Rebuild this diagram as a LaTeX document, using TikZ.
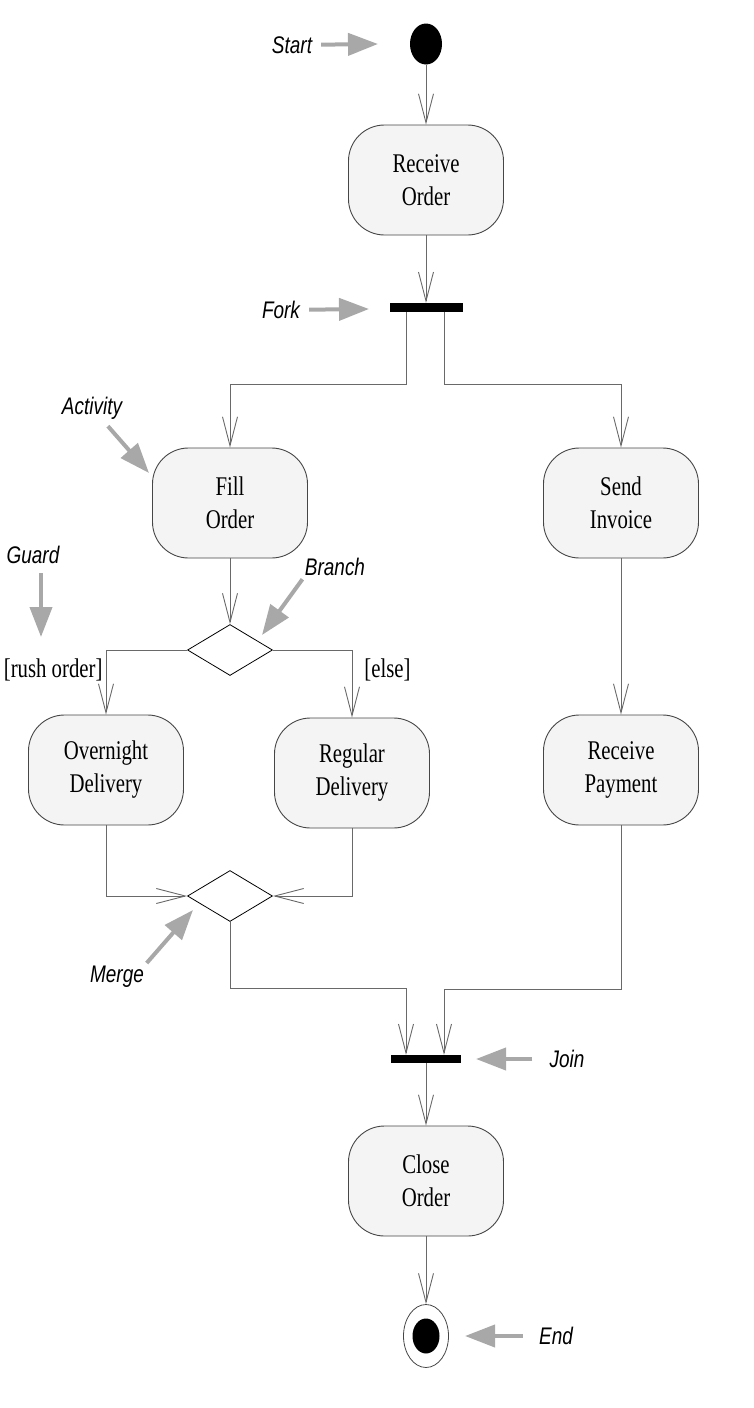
\documentclass[tikz,border=0pt]{standalone}
\usepackage{fontspec}
\usepackage{xcolor}
\usepackage{tikz}
\usetikzlibrary{arrows.meta}
\usetikzlibrary{shapes.geometric}
\newfontfamily\boxfont{Liberation Serif}[FakeStretch=0.77]
\newfontfamily\notefont{Liberation Sans}[FakeStretch=0.79]
\definecolor{linegray}{RGB}{105,105,105}
\definecolor{notegray}{RGB}{168,168,168}
\definecolor{boxfill}{RGB}{244,244,244}
\definecolor{boxline}{RGB}{70,70,70}
\tikzset{
  activity/.style={draw=boxline,fill=boxfill,line width=0.9pt,rounded corners=36pt,
    minimum width=155pt,minimum height=110pt,align=center,inner sep=0pt,
    font=\boxfont\fontsize{27}{33}\selectfont},
  bar/.style={fill=black,minimum width=73pt,minimum height=9pt,inner sep=0pt},
  choice/.style={diamond,draw=black,line width=0.8pt,minimum width=85pt,minimum height=51pt,inner sep=0pt},
  flow/.style={linegray,line width=0.9pt,-{Straight Barb[length=29pt,width=15pt]}},
  note/.style={draw=notegray,line width=4pt,-{Triangle[length=30pt,width=22pt]},shorten <=9pt},
  notetext/.style={inner sep=0pt,font=\notefont\itshape\fontsize{24}{28}\selectfont},
  guard/.style={inner sep=0pt,black,font=\boxfont\fontsize{27}{33}\selectfont}
}

\begin{document}
\begin{tikzpicture}[x=1pt,y=-1pt]
  \useasboundingbox (0,0) rectangle (754,1408);
  \node[ellipse,fill=black,minimum width=32pt,minimum height=41pt,inner sep=0pt] (start) at (426,44) {};
  \node[activity] (recv) at (426,180) {Receive\\Order};
  \node[bar] (fork) at (426,307.5) {};
  \node[activity] (fill) at (230,503) {Fill\\Order};
  \node[activity] (send) at (621,503) {Send\\Invoice};
  \node[choice] (branch) at (230,650) {};
  \node[activity] (over) at (106,770) {Overnight\\Delivery};
  \node[activity] (reg) at (352,773) {Regular\\Delivery};
  \node[activity] (pay) at (621,770) {Receive\\Payment};
  \node[choice] (merge) at (230,896) {};
  \node[bar,minimum width=70pt,minimum height=8pt] (join) at (426,1059) {};
  \node[activity] (close) at (426,1181) {Close\\Order};
  \node[ellipse,draw=boxline,line width=0.8pt,minimum width=45pt,minimum height=63pt,inner sep=0pt] (finish) at (426,1336) {};
  \node[ellipse,fill=black,minimum width=27pt,minimum height=35pt,inner sep=0pt] (finishin) at (finish) {};

  \path[flow]
    (start) edge (recv)
    (recv) edge (fork)
    (fill) edge (branch)
    (send) edge (pay)
    (join) edge (close)
    (close) edge (finish);
  \draw[flow] ([xshift=-20pt]fork.south) -- ++(0,72) -| (fill.north);
  \draw[flow] ([xshift=18pt]fork.south) -- ++(0,72) -| (send.north);
  \draw[flow] (branch.west) -| node[pos=0.5,guard,anchor=north east,xshift=-3pt,yshift=-8pt] {[rush order]} (over.north);
  \draw[flow] (branch.east) -| node[pos=0.5,guard,anchor=north west,xshift=12pt,yshift=-8pt] {[else]} (reg.north);
  \draw[flow] (over.south) |- (merge.west);
  \draw[flow] (reg.south) |- (merge.east);
  \draw[flow] (merge.south) -- ++(0,67) -| ([xshift=-20pt]join.north);
  \draw[flow] (pay.south) -- ++(0,164) -| ([xshift=18pt]join.north);

  \node[notetext] (lstart) at (292,45) {Start};
  \node[notetext] (lfork) at (281,310) {Fork};
  \node[notetext] (lact) at (92,408) {Activity};
  \node[notetext] (lguard) at (33,555) {Guard};
  \node[notetext] (lbranch) at (335,567) {Branch};
  \node[notetext] (lmerge) at (117,977) {Merge};
  \node[notetext] (ljoin) at (567,1059) {Join};
  \node[notetext] (lend) at (556,1336) {End};
  \coordinate (tstart) at (378,44);
  \coordinate (tfork) at (369,309);
  \coordinate (tact) at (149,473);
  \coordinate (tguard) at (41,637);
  \coordinate (tbranch) at (262,635);
  \coordinate (tmerge) at (193,910);
  \coordinate (tjoin) at (476,1059);
  \coordinate (tend) at (465,1336);
  \draw[note] (lstart) -- (tstart);
  \draw[note] (lfork) -- (tfork);
  \draw[note] ([xshift=10pt]lact.south) -- (tact);
  \draw[note] ([xshift=8pt]lguard.south) -- (tguard);
  \draw[note,shorten <=4pt] (lbranch.south west) -- (tbranch);
  \draw[note,shorten <=4pt] (lmerge.north east) -- (tmerge);
  \draw[note,shorten <=17pt] (ljoin) -- (tjoin);
  \draw[note,shorten <=16pt] (lend) -- (tend);
\end{tikzpicture}
\end{document}
